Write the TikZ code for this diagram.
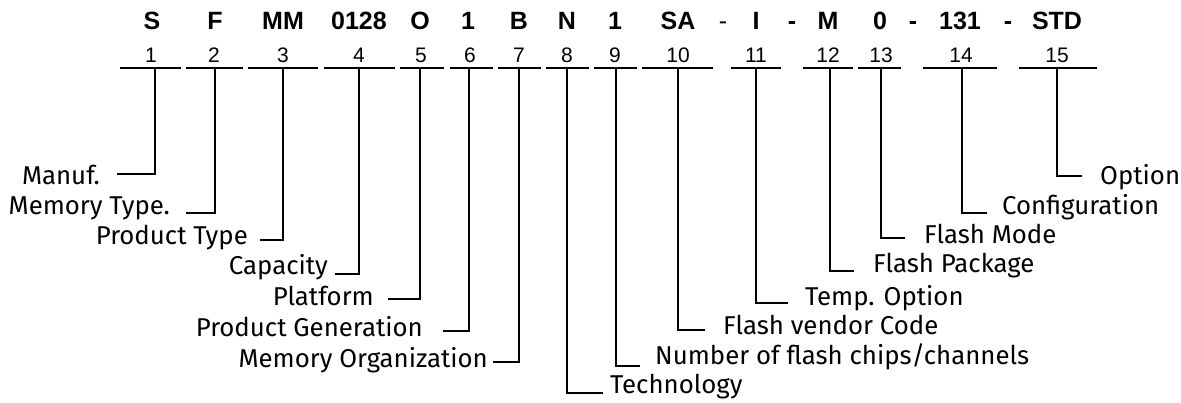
\documentclass[tikz,border=0pt]{standalone}
\usepackage{fontspec}
\setmainfont{Liberation Sans}
\newfontfamily\labfont{Fira Sans}
\begin{document}
\begin{tikzpicture}[x=1pt,y=-1pt,
  code/.style={font=\fontsize{25}{30}\selectfont\bfseries, inner sep=0pt, anchor=base},
  hyph/.style={font=\fontsize{25}{30}\selectfont, inner sep=0pt, anchor=base},
  num/.style={font=\fontsize{21}{25}\selectfont, inner sep=0pt, anchor=base},
  lab/.style={font=\labfont\fontsize{25.8}{30}\selectfont, inner sep=0pt},
  bar/.style={line width=2.5pt},
  conn/.style={line width=1.3pt}]
\useasboundingbox (0,0) rectangle (1181,403);
% code letters
\foreach \i/\x/\t in {1/152/S,2/215/F,3/283/MM,4/359/0128,5/420/O,6/468/1,7/519/B,8/567/N,9/615/1,10/678/SA,11/756/I,12/828/M,13/880/0,14/960/131,15/1057/STD}
  \node[code] (c\i) at (\x,30) {\t};
\node[hyph] (h1) at (723,30) {-};
\node[code] (h2) at (792,30) {-};
\node[code] (h3) at (913,30) {-};
\node[code] (h4) at (1008,30) {-};
% numbers
\foreach \i/\x in {1/151,2/214,3/283,4/359,5/421,6/470,7/519,8/567,9/615,10/678,11/756,12/828,13/881,14/961,15/1057}
  \node[num] (n\i) at (\x,63) {\i};
% bars and ticks
\foreach \i/\a/\b/\t in {1/120/181/155,2/186/243/215,3/248/318/283,4/324/395/359,5/400/444/420,6/450/493/469,7/498/541/519,8/546/589/567,9/594/637/616,10/642/713/678,11/731/781/756,12/803/853/830,13/858/901/881,14/923/997/962,15/1019/1097/1057}
{
  \coordinate (bl\i) at (\a,68);
  \coordinate (br\i) at (\b,68);
  \coordinate (t\i) at (\t,68);
  \draw[bar] (bl\i) -- (br\i);
}
% left labels
\foreach \i/\ly/\lx/\tx/\by/\txt in {1/174/117/100/185/{Manuf.},2/213/186/170/215/{Memory Type.},3/240/260/248/245/{Product Type},4/274/335/328/275/{Capacity},5/299/388/374/306/{Platform},6/331/443/423/337/{Product Generation},7/362/493/488/367/{Memory Organization}}
{
  \coordinate (e\i) at (\lx,\ly);
  \node[lab,anchor=base east] (l\i) at (\tx,\by) {\txt};
  \draw[conn] (t\i) |- (e\i);
}
% right labels
\foreach \i/\ly/\lx/\tx/\by/\txt in {8/393/603/610/393/{Technology},9/366/640/655/365/{Number of flash chips/channels},10/330/705/723/335/{Flash vendor Code},11/303/788/805/306/{Temp. Option},12/271/854/873/273/{Flash Package},13/238/905/924/244/{Flash Mode},14/213/987/1002/215/{Configuration},15/176/1082/1100/185/{Option}}
{
  \coordinate (e\i) at (\lx,\ly);
  \node[lab,anchor=base west] (l\i) at (\tx,\by) {\txt};
  \draw[conn] (t\i) |- (e\i);
}
\end{tikzpicture}
\end{document}
